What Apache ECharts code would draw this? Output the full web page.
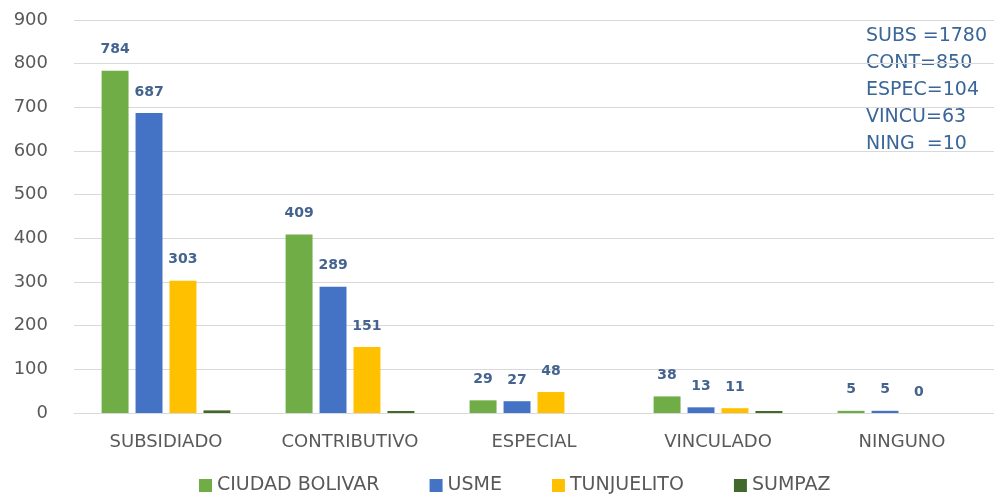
<!DOCTYPE html>
<html>
<head>
<meta charset="utf-8">
<script src="https://cdn.jsdelivr.net/npm/echarts@6/dist/echarts.min.js"></script>
<style>
  html, body { margin: 0; padding: 0; background: #fff; }
  #chart { width: 994px; height: 500px; }
</style>
</head>
<body>
<div id="chart"></div>
<script>
// categorías y valores
const categories = ['SUBSIDIADO', 'CONTRIBUTIVO', 'ESPECIAL', 'VINCULADO', 'NINGUNO'];
const ciudadBolivar = [784, 409, 29, 38, 5];
const usme = [687, 289, 27, 13, 5];
const tunjuelito = [303, 151, 48, 11, 0];
const sumpaz = [6, 1, 0, 1, 0];
const totals = ['SUBS =1780', 'CONT=850', 'ESPEC=104', 'VINCU=63', 'NING  =10'];

const font = 'DejaVu Sans';
const labelColor = '#44638F';

const chart = echarts.init(document.getElementById('chart'));

const labelled = (name, data, color) => ({
  name: name,
  type: 'bar',
  data: data,
  barGap: '26%',
  barCategoryGap: '30%',
  itemStyle: { color: color },
  label: {
    show: true,
    position: 'top',
    distance: 14,
    color: labelColor,
    fontFamily: font,
    fontSize: 14,
    fontWeight: 'bold'
  }
});

chart.setOption({
  animation: false,
  grid: { left: 74, right: 0, top: 20, bottom: 87 },
  legend: {
    bottom: 0,
    left: 194,
    icon: 'rect',
    itemWidth: 13,
    itemHeight: 13,
    itemGap: 50,
    textStyle: { color: '#595959', fontFamily: font, fontSize: 19 }
  },
  xAxis: {
    type: 'category',
    data: categories,
    axisTick: { show: false },
    axisLine: { lineStyle: { color: '#d9d9d9' } },
    axisLabel: { color: '#595959', fontFamily: font, fontSize: 18, margin: 20 }
  },
  yAxis: {
    type: 'value',
    min: 0,
    max: 900,
    interval: 100,
    axisLine: { show: false },
    axisTick: { show: false },
    splitLine: { lineStyle: { color: '#d9d9d9', width: 1 } },
    axisLabel: { color: '#595959', fontFamily: font, fontSize: 18, margin: 26 }
  },
  graphic: totals.map((t, i) => ({
    type: 'text',
    left: 866,
    top: 27 + i * 26.8,
    style: { text: t, fill: '#3A6698', font: '19px "DejaVu Sans"' }
  })),
  series: [
    labelled('CIUDAD BOLIVAR', ciudadBolivar, '#70AD47'),
    labelled('USME', usme, '#4472C4'),
    labelled('TUNJUELITO', tunjuelito, '#FFC000'),
    {
      name: 'SUMPAZ',
      type: 'bar',
      data: sumpaz.map(v => (v === 0 ? '-' : v)),
      barMinHeight: 2,
      itemStyle: { color: '#43682B' }
    }
  ]
});
</script>
</body>
</html>
